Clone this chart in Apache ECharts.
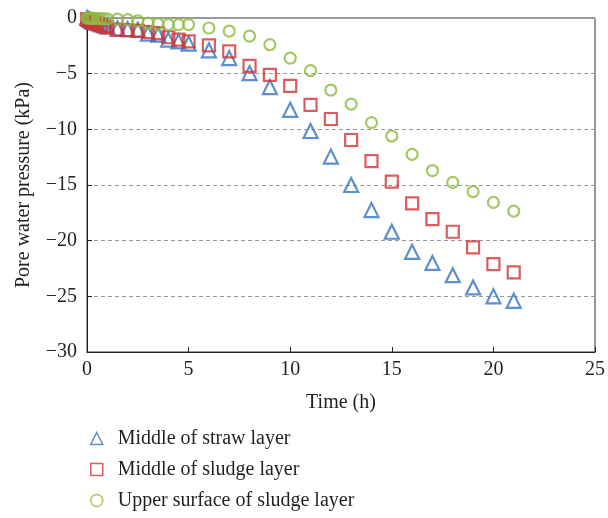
<!DOCTYPE html>
<html>
<head>
<meta charset="utf-8">
<script src="https://cdn.jsdelivr.net/npm/echarts@6/dist/echarts.min.js"></script>
<style>
  html, body { margin: 0; padding: 0; background: #fff; }
  #chart { width: 608px; height: 518px; }
</style>
</head>
<body>
<div id="chart"></div>
<script>
// Measurement times (h)
var times = [0, 0.083, 0.167, 0.25, 0.333, 0.5, 0.667, 0.833, 1,
  1.5, 2, 2.5, 3, 3.5, 4, 4.5, 5,
  6, 7, 8, 9, 10, 11, 12, 13, 14, 15, 16, 17, 18, 19, 20, 21];

// Pore water pressure (kPa) at each time
var strawMiddle = [0, -0.1, -0.2, -0.3, -0.35, -0.45, -0.55, -0.65, -0.75,
  -0.95, -1.0, -1.05, -1.4, -1.5, -1.95, -2.1, -2.3,
  -2.9, -3.6, -4.95, -6.2, -8.25, -10.15, -12.45, -15.0, -17.25, -19.2, -21.0, -22.0, -23.1, -24.2, -25.0, -25.4];
var sludgeMiddle = [-0.1, -0.2, -0.3, -0.4, -0.45, -0.55, -0.65, -0.75, -0.85,
  -1.05, -1.1, -1.15, -1.26, -1.35, -1.73, -1.95, -2.1,
  -2.45, -3.0, -4.3, -5.1, -6.1, -7.8, -9.07, -10.96, -12.85, -14.7, -16.65, -18.06, -19.2, -20.6, -22.1, -22.85];
var sludgeSurface = [0, 0, -0.02, -0.03, -0.04, -0.05, -0.06, -0.07, -0.08,
  -0.1, -0.15, -0.25, -0.45, -0.54, -0.6, -0.6, -0.6,
  -0.9, -1.17, -1.62, -2.4, -3.6, -4.73, -6.47, -7.73, -9.4, -10.6, -12.25, -13.7, -14.77, -15.6, -16.56, -17.34];

var seriesNames = ['Middle of straw layer', 'Middle of sludge layer', 'Upper surface of sludge layer'];
var xTicks = [0, 5, 10, 15, 20, 25];
var yTicks = [0, -5, -10, -15, -20, -25, -30];

function pairs(vals) {
  return times.map(function (t, i) { return [t, vals[i]]; });
}

var font = '"Liberation Serif", "DejaVu Serif", serif';
var ink = '#231f20';

function scatter(name, vals, symbol, size, color) {
  return {
    name: name,
    type: 'scatter',
    data: pairs(vals),
    symbol: symbol,
    symbolSize: size,
    itemStyle: { color: 'rgba(255,255,255,0)', borderColor: color, borderWidth: 2.2 },
    emphasis: { disabled: true }
  };
}

var chart = echarts.init(document.getElementById('chart'), null, { renderer: 'canvas' });
chart.setOption({
  animation: false,
  backgroundColor: '#fff',
  grid: {
    left: 87, right: 11, top: 18, bottom: 166,
    show: true, borderColor: '#333', borderWidth: 1, backgroundColor: 'transparent'
  },
  xAxis: {
    type: 'value',
    min: xTicks[0], max: xTicks[xTicks.length - 1], interval: 5,
    name: 'Time (h)', nameLocation: 'middle', nameGap: 41,
    nameTextStyle: { fontFamily: font, fontSize: 20, color: ink },
    axisLine: { onZero: false, lineStyle: { color: '#222', width: 1 } },
    axisTick: { inside: true, length: 5, lineStyle: { color: '#222' } },
    axisLabel: { fontFamily: font, fontSize: 20, color: ink, margin: 8 },
    splitLine: { show: false }
  },
  yAxis: {
    type: 'value',
    min: yTicks[yTicks.length - 1], max: yTicks[0], interval: 5,
    name: 'Pore water pressure (kPa)', nameLocation: 'middle', nameGap: 53,
    nameTextStyle: { fontFamily: font, fontSize: 20, color: ink },
    axisLine: { onZero: false, lineStyle: { color: '#222', width: 1 } },
    axisTick: { inside: true, length: 5, lineStyle: { color: '#222' } },
    axisLabel: {
      fontFamily: font, fontSize: 20, color: ink, margin: 10,
      formatter: function (v) { return String(v).replace('-', '\u2212'); }
    },
    splitLine: { show: true, lineStyle: { color: '#999', type: [4, 3], width: 1 } }
  },
  legend: {
    orient: 'vertical',
    left: 90, top: 427,
    padding: 0,
    itemWidth: 12, itemHeight: 12, itemGap: 8,
    itemStyle: { borderWidth: 1.5 },
    textStyle: { fontFamily: font, fontSize: 20, lineHeight: 23, color: ink, padding: [0, 0, 0, 10] },
    data: seriesNames
  },
  series: [
    scatter(seriesNames[0], strawMiddle, 'triangle', 14, '#3474c2'),
    scatter(seriesNames[1], sludgeMiddle, 'rect', 12, '#d03535'),
    scatter(seriesNames[2], sludgeSurface, 'circle', 11, '#8cbb3f')
  ]
});
</script>
</body>
</html>
